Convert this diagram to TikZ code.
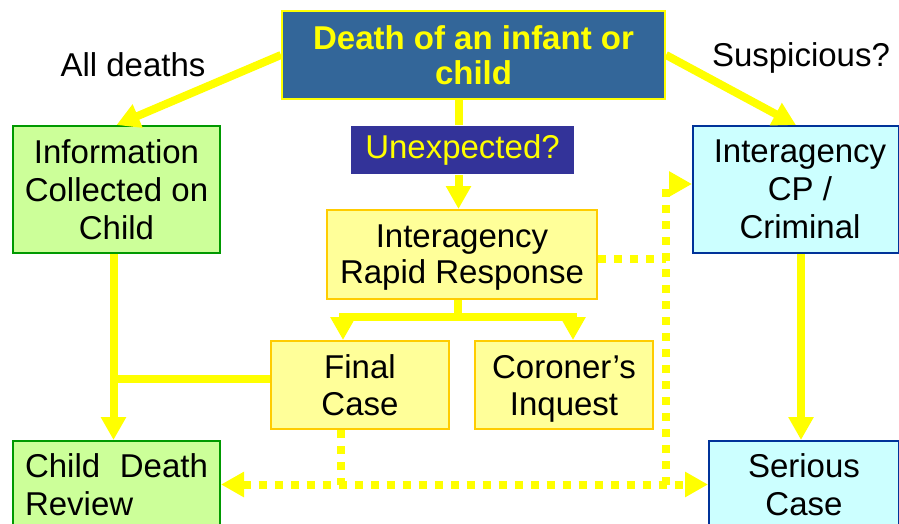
\documentclass[tikz,border=0pt]{standalone}
\usepackage{fontspec}
\setmainfont{Liberation Sans}
\usetikzlibrary{arrows.meta}
\definecolor{ylw}{RGB}{255,255,0}
\definecolor{titlefill}{RGB}{51,102,153}
\definecolor{unexpfill}{RGB}{51,51,153}
\definecolor{greenfill}{RGB}{204,255,153}
\definecolor{greenline}{RGB}{0,153,0}
\definecolor{paleyellow}{RGB}{255,255,153}
\definecolor{goldline}{RGB}{255,204,0}
\definecolor{cyanfill}{RGB}{204,255,255}
\definecolor{blueline}{RGB}{0,51,153}
\newcommand{\nodepth}[1]{\raisebox{0pt}[\height][0pt]{#1}}
\tikzset{
  box/.style={draw, line width=2pt, inner sep=0pt, anchor=north west, align=center,
    text=black, font=\fontsize{33}{38}\selectfont},
  greenbox/.style={box, fill=greenfill, draw=greenline},
  yelbox/.style={box, fill=paleyellow, draw=goldline},
  cyanbox/.style={box, fill=cyanfill, draw=blueline},
  lbl/.style={font=\fontsize{33}{38}\selectfont, text=black},
  ln/.style={draw=ylw, line width=8pt},
  arr/.style={ln, -{Triangle[length=23pt,width=24pt]}},
  dotln/.style={draw=ylw, line width=8pt, dash pattern=on 8pt off 8pt},
}
\begin{document}
\begin{tikzpicture}[x=1pt,y=-1pt]
\useasboundingbox (0,0) rectangle (899,524);
\clip (0,0) rectangle (899,524);
% nodes
\node[box, fill=titlefill, draw=ylw, text=ylw, font=\fontsize{33}{35}\selectfont\bfseries,
      minimum width=383, minimum height=88] (title) at (281,10) {Death of an infant or\\child};
\node[box, draw=none, fill=unexpfill, text=ylw, minimum width=223, minimum height=48] (unexp) at (350,125) {Unexpected?};
\node[greenbox, minimum width=207, minimum height=127] (info) at (12,125) {Information\\Collected on\\Child};
\node[cyanbox, minimum width=206, minimum height=127] (cp) at (692,125) {\hspace*{8pt}Interagency\\\hspace*{8pt}CP /\\\hspace*{8pt}Criminal};
\node[yelbox, minimum width=270, minimum height=89, font=\fontsize{33}{36}\selectfont] (rr) at (326,209) {Interagency\\\nodepth{Rapid Response}};
\node[yelbox, minimum width=178, minimum height=88, font=\fontsize{33}{37}\selectfont] (final) at (270,340) {Final\\Case};
\node[yelbox, minimum width=178, minimum height=88, font=\fontsize{33}{37}\selectfont] (cor) at (474,340) {Coroner’s\\\nodepth{Inquest}};
\node[greenbox, minimum width=207, minimum height=87, align=left] (cdr) at (12,440) {\makebox[183pt][s]{Child Death}\\Review};
\node[cyanbox, minimum width=190, minimum height=87] (serious) at (708,440) {Serious\\Case};
\node[lbl] (alld) at (133,65) {All deaths};
\node[lbl] (susp) at (801,58) {Suspicious?};
% solid connectors
\draw[arr] (title.west) -- (info.north);
\draw[arr] (title.east) -- (cp.north);
\draw[ln] ([xshift=-4pt]unexp.north) -- ([xshift=-4pt]unexp.north |- title.south);
\draw[arr] ([xshift=-4pt]unexp.south) -- ([xshift=-4pt]unexp.south |- rr.north);
\coordinate (br) at (457,317);
\draw[ln] ([xshift=-4pt]rr.south) -- ([xshift=-4pt]rr.south |- br);
\draw[arr] (br) -| ([xshift=-17pt]final.north);
\draw[arr] (br) -| ([xshift=9pt]cor.north);
\draw[arr] ([xshift=-3pt]info.south) -- ([xshift=-3pt]cdr.north);
\draw[ln] ([yshift=6pt]final.west) -- ([yshift=6pt,xshift=-3pt]final.west -| info.south);
\draw[arr] ([xshift=5pt]cp.south) -- ([xshift=5pt]cp.south |- serious.north);
% dotted connectors
\coordinate (jx) at (666,0);
\draw[dotln] ([yshift=-4.5pt]rr.east) -- ([yshift=-4.5pt]rr.east -| jx);
\draw[dotln, -{Triangle[length=23pt,width=24pt]}] (cdr.east -| jx) -- ([yshift=5.5pt]cp.west -| jx) -- ([yshift=5.5pt]cp.west);
\draw[dotln, {Triangle[length=23pt,width=24pt]}-{Triangle[length=23pt,width=24pt]}] (cdr.east) -- (serious.west);
\draw[dotln] ([xshift=-19pt]final.south) -- ([xshift=-19pt]final.south |- cdr.east);
\end{tikzpicture}
\end{document}
